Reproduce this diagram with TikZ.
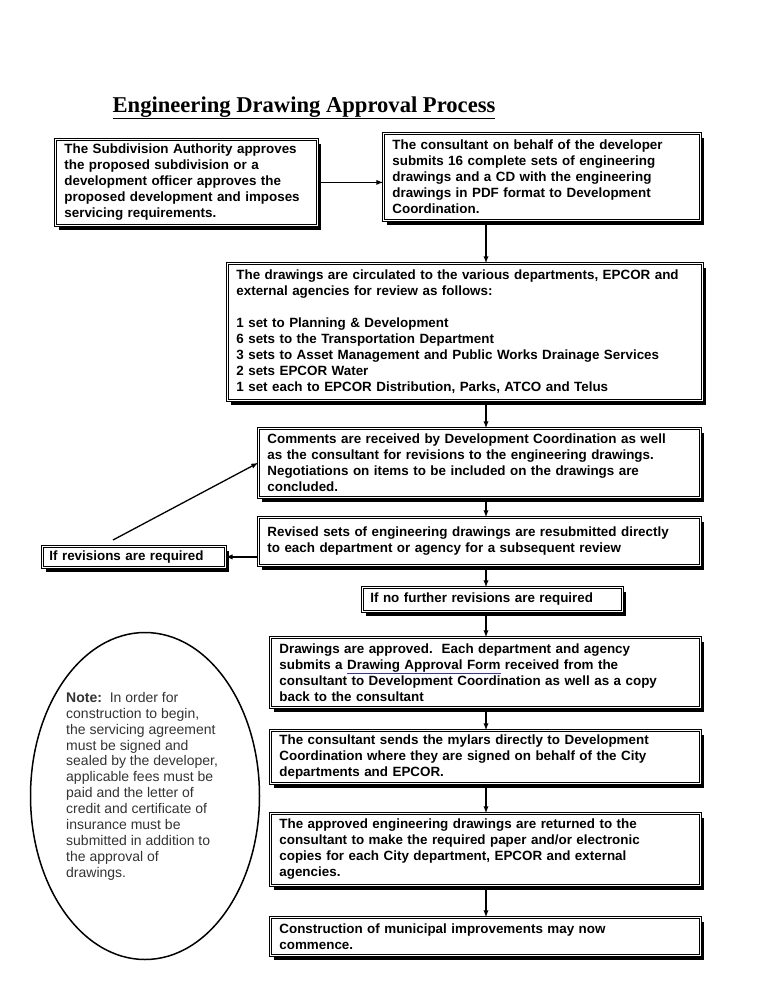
\documentclass[tikz,border=0pt]{standalone}
\usepackage{fontspec}
\setmainfont{Liberation Sans}
\newfontfamily\titlefont{Liberation Serif}
\usepackage{tikz}
\usetikzlibrary{shapes,arrows,shadows}
\definecolor{linkcol}{rgb}{0.2, 0.2, 0.75}
\definecolor{notegray}{rgb}{0.2, 0.2, 0.2}
\newcommand{\formlink}[1]{{\color{linkcol}\underline{\textcolor{black}{#1}}}}
\tikzstyle{stepbox}=[draw, line width=0.8pt, double=white, double distance=1.1pt, fill=white,
  drop shadow={shadow xshift=4pt, shadow yshift=-5pt, fill=black, opacity=1},
  anchor=north west, align=left, inner xsep=9pt, inner ysep=2pt,
  font=\bfseries\fontsize{13.4}{16}\selectfont]
\tikzstyle{flow}=[-latex, line width=1.3pt]

\begin{document}
\begin{tikzpicture}[x=1pt,y=-1pt]
\useasboundingbox (0,0) rectangle (768,994);
\coordinate (spine) at (486,0);
\node[anchor=base, font=\titlefont\bfseries\fontsize{22.6}{26}\selectfont] (title) at (304,112) {\underline{Engineering Drawing Approval Process}};
\node[stepbox, minimum width=262pt, minimum height=86pt, text width=244pt] (auth) at (55,139)
  {The Subdivision Authority approves\\the proposed subdivision or a\\development officer approves the\\proposed development and imposes\\servicing requirements.};
\node[stepbox, minimum width=317pt, minimum height=87pt, text width=299pt] (cons) at (383,133)
  {The consultant on behalf of the developer\\submits 16 complete sets of engineering\\drawings and a CD with the engineering\\drawings in PDF format to Development\\Coordination.};
\node[stepbox, minimum width=475pt, minimum height=137pt, text width=457pt] (circ) at (227,263)
  {The drawings are circulated to the various departments, EPCOR and\\external agencies for review as follows:\\[16pt]
  1 set to Planning \& Development\\6 sets to the Transportation Department\\3 sets to Asset Management and Public Works Drainage Services\\2 sets EPCOR Water\\1 set each to EPCOR Distribution, Parks, ATCO and Telus};
\node[stepbox, minimum width=442pt, minimum height=69pt, text width=424pt] (comm) at (258,428)
  {Comments are received by Development Coordination as well\\as the consultant for revisions to the engineering drawings.\\Negotiations on items to be included on the drawings are\\concluded.};
\node[stepbox, minimum width=442pt, minimum height=48pt, text width=424pt] (rev) at (258,517)
  {Revised sets of engineering drawings are resubmitted directly\\to each department or agency for a subsequent review};
\node[stepbox, minimum width=183pt, minimum height=21pt, text width=169pt, inner xsep=7pt] (ifrev) at (42,546)
  {If revisions are required};
\node[stepbox, minimum width=260pt, minimum height=24pt, text width=244pt, inner xsep=8pt] (nofurther) at (362,587)
  {If no further revisions are required};
\node[stepbox, minimum width=430pt, minimum height=70pt, text width=412pt] (appr) at (270,637)
  {Drawings are approved.\ \ Each department and agency\\submits a \formlink{Drawing Approval Form} received from the\\consultant to Development Coordination as well as a copy\\back to the consultant};
\node[stepbox, minimum width=430pt, minimum height=53pt, text width=412pt] (mylar) at (270,730)
  {The consultant sends the mylars directly to Development\\Coordination where they are signed on behalf of the City\\departments and EPCOR.};
\node[stepbox, minimum width=430pt, minimum height=72pt, text width=412pt] (ret) at (270,813)
  {The approved engineering drawings are returned to the\\consultant to make the required paper and/or electronic\\copies for each City department, EPCOR and external\\agencies.};
\node[stepbox, minimum width=430pt, minimum height=38pt, text width=412pt] (constr) at (270,917)
  {Construction of municipal improvements may now\\commence.};
\node[draw, ellipse, line width=1.5pt, minimum width=229pt, minimum height=327pt] (note) at (145,796) {};
\node[anchor=north west, align=left, inner sep=0pt, text=notegray, font=\fontsize{14}{15.9}\selectfont] (notetext) at (66,692)
  {\textbf{Note:}\ \ In order for\\construction to begin,\\the servicing agreement\\must be signed and\\sealed by the developer,\\applicable fees must be\\paid and the letter of\\credit and certificate of\\insurance must be\\submitted in addition to\\the approval of\\drawings.};
\coordinate (back) at (113,540);
\draw[flow] (auth.east) -- (auth.east -| cons.west);
\draw[flow] (cons.south -| spine) -- (circ.north -| spine);
\draw[flow] (circ.south -| spine) -- (comm.north -| spine);
\draw[flow] (comm.south -| spine) -- (rev.north -| spine);
\draw[flow] (rev.south -| spine) -- (nofurther.north -| spine);
\draw[flow] (nofurther.south -| spine) -- (appr.north -| spine);
\draw[flow] (appr.south -| spine) -- (mylar.north -| spine);
\draw[flow] (mylar.south -| spine) -- (ret.north -| spine);
\draw[flow] (ret.south -| spine) -- (constr.north -| spine);
\draw[flow] (ifrev.east -| rev.west) -- (ifrev.east);
\draw[flow] (back) -- (comm.west);
%\draw[flow] (ifrev.north) -- (comm.west);
\end{tikzpicture}
\end{document}
